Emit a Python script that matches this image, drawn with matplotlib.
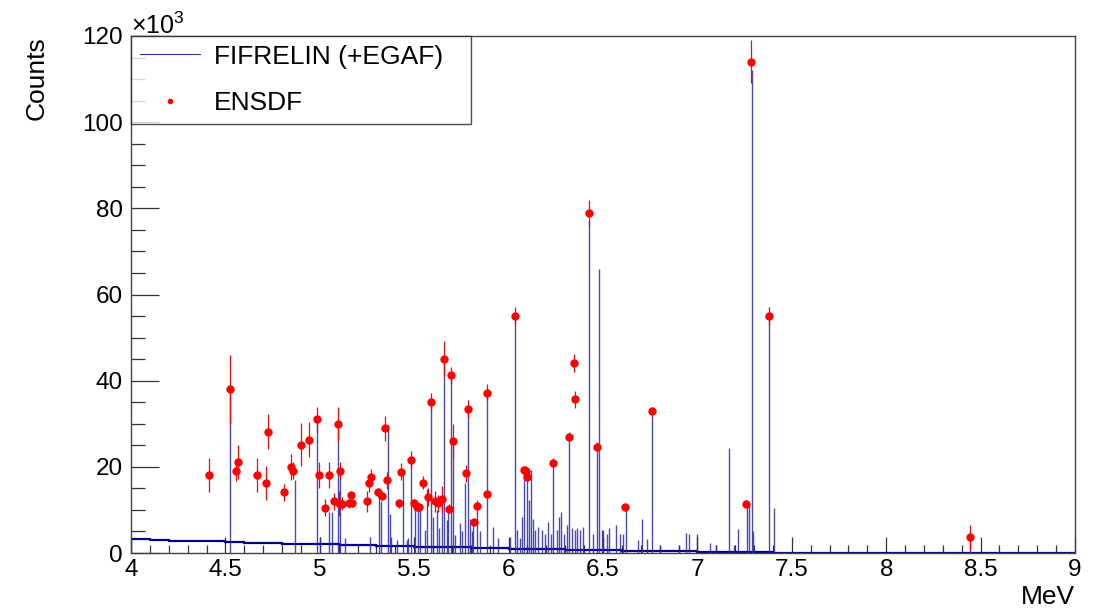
import matplotlib
matplotlib.use("Agg")
import matplotlib.pyplot as plt
import numpy as np
from matplotlib.lines import Line2D

plt.rcParams['font.family'] = ['Liberation Sans', 'DejaVu Sans']
plt.rcParams['mathtext.fontset'] = 'custom'
plt.rcParams['mathtext.rm'] = 'Liberation Sans'
plt.rcParams['mathtext.it'] = 'Liberation Sans'

# ---- FIFRELIN continuum (x10^3 counts) per 0.1 MeV bin, 4.0 -> 9.0 MeV
cont_edges_start = 4.0
cont_bin = 0.1
continuum = [3.2, 3.1, 2.9, 2.8, 2.7, 2.5, 2.4, 2.3, 2.2, 2.1,
             2.0, 1.9, 1.8, 1.7, 1.6, 1.5, 1.4, 1.3, 1.2, 1.1,
             1.0, 0.9, 0.85, 0.8, 0.7, 0.6, 0.5, 0.45, 0.4, 0.35,
             0.3, 0.25, 0.2, 0.15, 0.1, 0.05, 0.0, 0.0, 0.0, 0.0,
             0.0, 0.0, 0.0, 0.0, 0.0, 0.0, 0.0, 0.0, 0.0, 0.0]

# ---- FIFRELIN line peaks (MeV, x10^3 counts)
peak_E = [4.524, 4.866, 4.983, 5.001, 5.047, 5.063, 5.095, 5.107, 5.135, 5.266,
          5.315, 5.322, 5.363, 5.370, 5.378, 5.407, 5.439, 5.460, 5.469, 5.483,
          5.504, 5.522, 5.530, 5.557, 5.566, 5.587, 5.598, 5.619, 5.633, 5.645,
          5.658, 5.672, 5.681, 5.693, 5.704, 5.716, 5.743, 5.755, 5.769, 5.785,
          5.796, 5.805, 5.813, 5.831, 5.849, 5.884, 5.919, 5.946, 6.007, 6.032,
          6.043, 6.060, 6.069, 6.083, 6.096, 6.110, 6.119, 6.128, 6.140, 6.157,
          6.175, 6.193, 6.210, 6.223, 6.234, 6.255, 6.267, 6.278, 6.293, 6.308,
          6.318, 6.334, 6.352, 6.364, 6.378, 6.396, 6.428, 6.449, 6.467, 6.480,
          6.493, 6.502, 6.520, 6.533, 6.568, 6.590, 6.604, 6.620, 6.687, 6.709,
          6.731, 6.762, 6.802, 6.904, 6.940, 6.957, 6.996, 7.067, 7.099, 7.167,
          7.196, 7.217, 7.261, 7.275, 7.287, 7.296, 7.381, 7.406, 8.446]
peak_H = [37.5, 17.0, 30.5, 3.8, 9.6, 9.5, 29.5, 18.5, 3.5, 3.8,
          13.0, 12.0, 29.8, 9.0, 3.8, 3.0, 18.3, 3.0, 3.5, 21.6,
          11.0, 11.0, 10.7, 5.3, 14.8, 35.1, 8.4, 10.0, 5.8, 11.5,
          44.8, 7.7, 10.0, 40.9, 26.0, 4.2, 6.9, 5.0, 16.2, 33.6,
          8.0, 5.0, 7.3, 9.6, 5.0, 37.4, 6.1, 3.5, 3.8, 54.9,
          5.3, 3.4, 8.4, 18.9, 17.7, 12.3, 19.3, 8.0, 5.3, 6.1,
          5.3, 4.5, 7.3, 4.5, 20.8, 5.3, 8.4, 9.6, 4.5, 6.5,
          27.0, 5.7, 5.3, 5.7, 5.3, 6.1, 77.0, 4.5, 24.7, 65.9,
          5.3, 5.3, 4.5, 5.7, 6.6, 4.5, 4.5, 10.4, 3.0, 7.8,
          3.2, 33.0, 1.9, 1.9, 4.6, 4.3, 4.3, 2.4, 1.9, 24.3,
          1.9, 5.5, 11.5, 11.0, 112.0, 5.0, 54.1, 10.4, 3.6]

# ---- ENSDF points (MeV, x10^3 counts, error)
ens_E = [4.415, 4.524, 4.556, 4.565, 4.669, 4.713, 4.724, 4.810, 4.846, 4.860,
         4.902, 4.941, 4.983, 4.998, 5.026, 5.050, 5.074, 5.095, 5.103, 5.109,
         5.116, 5.156, 5.165, 5.169, 5.248, 5.261, 5.270, 5.307, 5.328, 5.345,
         5.354, 5.418, 5.428, 5.485, 5.501, 5.513, 5.527, 5.547, 5.575, 5.587,
         5.609, 5.626, 5.649, 5.660, 5.684, 5.695, 5.704, 5.773, 5.787, 5.817,
         5.831, 5.884, 5.887, 6.032, 6.080, 6.090, 6.097, 6.235, 6.318, 6.345,
         6.350, 6.426, 6.467, 6.618, 6.761, 7.257, 7.286, 7.379, 8.446]
ens_Y = [18.1, 38.0, 19.1, 21.1, 18.1, 16.2, 28.2, 14.1, 20.0, 19.1,
         25.1, 26.3, 31.0, 18.1, 10.5, 18.1, 12.0, 30.0, 11.5, 19.1,
         11.4, 11.5, 13.5, 11.7, 12.0, 16.2, 17.6, 14.1, 13.2, 28.9,
         16.9, 11.5, 18.9, 21.6, 11.5, 10.7, 10.7, 16.3, 13.0, 35.1,
         12.0, 11.5, 12.5, 45.1, 10.3, 41.2, 26.0, 18.5, 33.4, 7.2,
         10.9, 37.2, 13.6, 55.0, 19.3, 19.1, 17.7, 21.0, 27.0, 44.1,
         35.7, 79.0, 24.7, 10.7, 32.9, 11.4, 114.0, 55.0, 3.6]
ens_err = [4.0, 8.0, 2.5, 4.0, 4.0, 4.0, 4.0, 2.0, 3.0, 2.0,
           5.0, 4.0, 3.0, 3.0, 2.0, 3.0, 2.0, 4.0, 3.0, 2.0,
           1.5, 1.0, 1.0, 1.0, 2.5, 2.0, 2.0, 1.0, 1.0, 3.0,
           2.0, 1.0, 2.0, 2.0, 1.0, 1.0, 1.0, 1.5, 2.0, 2.0,
           2.5, 2.0, 3.0, 4.0, 1.0, 2.0, 4.0, 2.0, 2.0, 1.0,
           1.5, 2.0, 1.0, 2.0, 1.0, 1.0, 1.0, 1.0, 1.0, 2.0,
           2.0, 3.0, 1.0, 1.0, 1.0, 1.0, 5.0, 2.0, 3.0]

x_ticks = [4, 4.5, 5, 5.5, 6, 6.5, 7, 7.5, 8, 8.5, 9]
x_tick_labels = ['4', '4.5', '5', '5.5', '6', '6.5', '7', '7.5', '8', '8.5', '9']
y_ticks = [0, 20, 40, 60, 80, 100, 120]

W, H = 1097, 613
fig = plt.figure(figsize=(W / 100, H / 100), dpi=100)
L, R, T, B = 131, 1075, 36, 553
ax = fig.add_axes([L / W, (H - B) / H, (R - L) / W, (B - T) / H])

hist_color = '#00008b'
edges = cont_edges_start + cont_bin * np.arange(len(continuum) + 1)
ax.stairs(continuum, edges, color=hist_color, lw=1.6, zorder=2)
ax.vlines(peak_E, 0, peak_H, color='#2a2aa6', lw=1.0, alpha=0.85, zorder=2)

ax.errorbar(ens_E, ens_Y, yerr=ens_err, fmt='o', color='#ff0000', ms=5,
            elinewidth=0.9, capsize=0, zorder=4)

h1 = Line2D([], [], color='#3333aa', lw=0.8)
h2 = Line2D([], [], color='#ff0000', marker='o', ls='none', ms=3)
leg = ax.legend([h1, h2], ['FIFRELIN (+EGAF)', 'ENSDF'], loc='upper left',
                bbox_to_anchor=(0, 0.8046, 0.36, 0.1954), mode='expand',
                borderaxespad=0, fontsize=19, frameon=True, fancybox=False,
                edgecolor='#222222', borderpad=0.33, labelspacing=0.85,
                handlelength=2.27, handletextpad=0.53)
leg.get_frame().set_linewidth(1.0)
leg.set_zorder(6)

ax.set_xlim(4, 9)
ax.set_ylim(0, 120)
ax.set_xticks(x_ticks)
ax.set_xticklabels(x_tick_labels)
ax.set_xticks(np.arange(4.0, 9.0001, 0.1), minor=True)
ax.set_yticks(y_ticks)
ax.set_yticks(np.arange(0, 121, 5), minor=True)

ax.tick_params(axis='both', which='both', direction='in', labelsize=17.5,
               color='#333333', width=0.9)
ax.tick_params(axis='x', which='major', length=11.2, pad=4)
ax.tick_params(axis='x', which='minor', length=5.6)
ax.tick_params(axis='y', which='major', length=20, pad=6)
ax.tick_params(axis='y', which='minor', length=10)
for s in ax.spines.values():
    s.set_color('#444444')
    s.set_linewidth(1.0)

ax.set_ylabel('Counts', fontsize=19, loc='top')
ax.yaxis.set_label_coords(-0.087, 1.0)
ax.set_xlabel('MeV', fontsize=19, loc='right')
ax.xaxis.set_label_coords(1.0, -0.062)

ax.text(0.0, 0.995, r'$\times10^{3}$', transform=ax.transAxes, fontsize=18,
        ha='left', va='bottom')

fig.savefig('out.png', dpi=100)
